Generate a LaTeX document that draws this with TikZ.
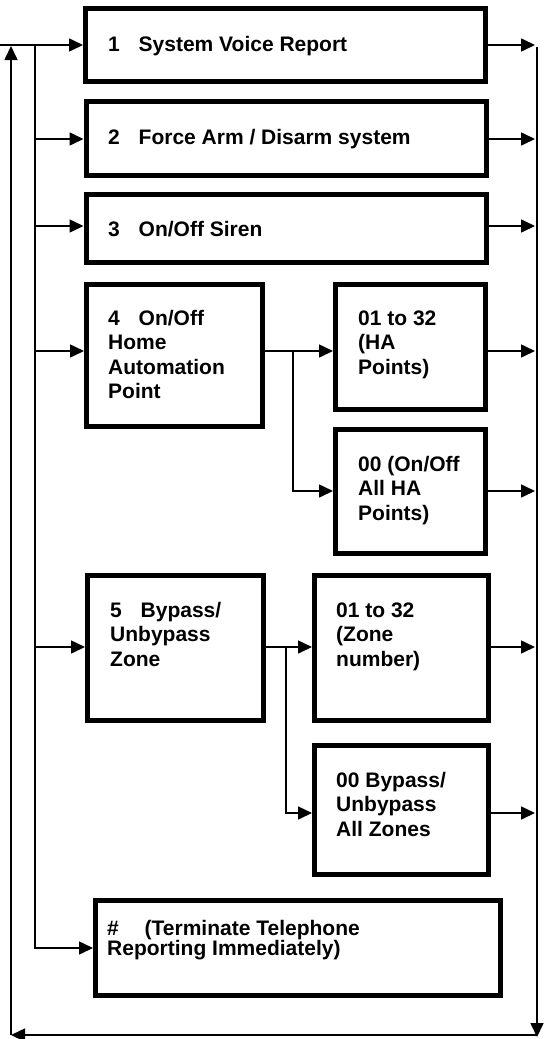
\documentclass[tikz,border=0pt]{standalone}
\usepackage{fontspec}
\setmainfont{Liberation Sans}
\usetikzlibrary{arrows.meta}
\begin{document}
\begin{tikzpicture}[x=1pt,y=-1pt,
  box/.style={draw, line width=5pt, inner sep=0pt, outer sep=2.5pt},
  txt/.style={anchor=base west, inner sep=0pt, align=left,
    font=\fontsize{21}{24.5}\selectfont\bfseries},
  conn/.style={line width=1.6pt},
  arr/.style={conn, -{Triangle[length=14pt,width=13pt]}}]
\useasboundingbox (0,0) rectangle (545,1039);
% boxes
\node[box, minimum width=400pt, minimum height=73pt] (b1) at (285.5,45) {};
\node[box, minimum width=400pt, minimum height=74pt] (b2) at (286,138.5) {};
\node[box, minimum width=400pt, minimum height=68pt] (b3) at (286,228.5) {};
\node[box, minimum width=176pt, minimum height=142pt] (b4) at (174.5,355.5) {};
\node[box, minimum width=150pt, minimum height=125pt] (ha1) at (410.5,347) {};
\node[box, minimum width=150pt, minimum height=124pt] (ha2) at (410.5,491.5) {};
\node[box, minimum width=176pt, minimum height=145pt] (b5) at (175.5,648) {};
\node[box, minimum width=174pt, minimum height=145pt] (z1) at (401.5,648) {};
\node[box, minimum width=174pt, minimum height=129pt] (z2) at (401.5,810) {};
\node[box, minimum width=405pt, minimum height=95pt] (bh) at (298,948) {};
% texts (anchor: baseline of the last line)
\node[txt] (t1) at (108,51) {\makebox[30.5pt][l]{1}System Voice Report};
\node[txt] (t2) at (108,144) {\makebox[30.5pt][l]{2}Force Arm / Disarm system};
\node[txt] (t3) at (108,236) {\makebox[30.5pt][l]{3}On/Off Siren};
\node[txt] (t4) at (108,398.5) {\makebox[30.5pt][l]{4}On/Off\\Home\\Automation\\Point};
\node[txt] (tha1) at (358,374) {01 to 32\\(HA\\Points)};
\node[txt] (tha2) at (358,520) {00 (On/Off\\All HA\\Points)};
\node[txt] (t5) at (110,666) {\makebox[30.5pt][l]{5}Bypass/\\Unbypass\\Zone};
\node[txt] (tz1) at (336,666) {01 to 32\\(Zone\\number)};
\node[txt] (tz2) at (336,836) {00 Bypass/\\Unbypass\\All Zones};
\node[txt, font=\fontsize{21}{20}\selectfont\bfseries] (th) at (107,955) {\makebox[37.5pt][l]{\#}(Terminate Telephone\\Reporting Immediately)};
% coordinates
\coordinate (tl) at (0,45);
\coordinate (L0) at (35,45);
\coordinate (j4) at (293,351);
\coordinate (k4) at (293,491);
\coordinate (j5) at (286,647);
\coordinate (k5) at (286,813);
\coordinate (y2) at (0,139);
\coordinate (y3) at (0,226);
\coordinate (rx) at (535,0);
\coordinate (rtop) at (537,47);
\coordinate (rbot) at (537,1037);
\coordinate (br) at (537,1035);
\coordinate (bl) at (11,1035);
\coordinate (ltop) at (11,46);
% left side
\draw[arr] (tl) -- (b1.west);
\draw[arr] (L0) |- (bh.west);
\draw[arr] (L0 |- y2) -- (b2.west |- y2);
\draw[arr] (L0 |- y3) -- (b3.west |- y3);
\draw[arr] (L0 |- j4) -- (b4.west |- j4);
\draw[arr] (L0 |- j5) -- (b5.west |- j5);
% branches
\draw[conn] (b4.east |- j4) -- (j4);
\draw[arr] (j4) -- (ha1.west |- j4);
\draw[arr] (j4) |- (ha2.west |- k4);
\draw[conn] (b5.east |- j5) -- (j5);
\draw[arr] (j5) -- (z1.west |- j5);
\draw[arr] (j5) |- (z2.west |- k5);
% right side
\draw[arr] (b1.east) -- (b1.east -| rx);
\draw[arr] (b2.east |- y2) -- (rx |- y2);
\draw[arr] (b3.east |- y3) -- (rx |- y3);
\draw[arr] (ha1.east |- j4) -- (rx |- j4);
\draw[arr] (ha2.east |- k4) -- (rx |- k4);
\draw[arr] (z1.east |- j5) -- (rx |- j5);
\draw[arr] (z2.east |- k5) -- (rx |- k5);
% return loop
\draw[arr] (rtop) -- (rbot);
\draw[arr] (br) -- (bl);
\draw[arr] (bl) -- (ltop);
\end{tikzpicture}
\end{document}
